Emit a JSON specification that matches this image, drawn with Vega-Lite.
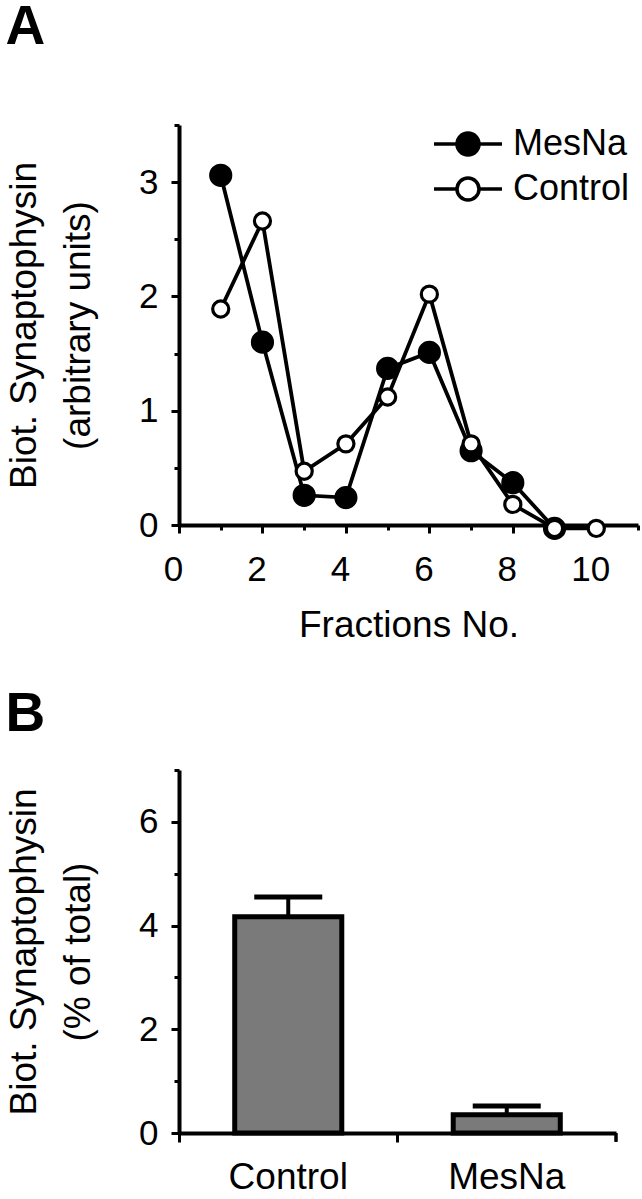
{
  "$schema": "https://vega.github.io/schema/vega-lite/v6.json",
  "padding": {"left": 5, "top": 0, "right": 5, "bottom": 0},
  "background": "white",
  "config": {
    "font": "Liberation Sans",
    "view": {"stroke": null},
    "axis": {
      "domainColor": "black", "domainWidth": 4, "tickColor": "black", "tickWidth": 3,
      "labelColor": "black", "titleColor": "black",
      "labelFont": "Liberation Sans", "titleFont": "Liberation Sans",
      "labelFontSize": 35, "titleFontSize": 37, "titleFontWeight": "normal",
      "grid": false, "labelFlush": false, "labelOverlap": false, "labelBound": false
    },
    "title": {"fontSize": 55, "fontWeight": "bold", "anchor": "start", "frame": "bounds", "color": "black", "font": "Liberation Sans"},
    "concat": {"spacing": 44}
  },
  "vconcat": [
    {
      "title": {"text": "A", "offset": 52},
      "width": 459,
      "height": 400,
      "data": {
        "values": [
          {"treatment": "MesNa", "fraction": 1, "value": 3.06},
          {"treatment": "MesNa", "fraction": 2, "value": 1.6},
          {"treatment": "MesNa", "fraction": 3, "value": 0.26},
          {"treatment": "MesNa", "fraction": 4, "value": 0.24},
          {"treatment": "MesNa", "fraction": 5, "value": 1.37},
          {"treatment": "MesNa", "fraction": 6, "value": 1.51},
          {"treatment": "MesNa", "fraction": 7, "value": 0.65},
          {"treatment": "MesNa", "fraction": 8, "value": 0.37},
          {"treatment": "MesNa", "fraction": 9, "value": -0.03},
          {"treatment": "Control", "fraction": 1, "value": 1.89},
          {"treatment": "Control", "fraction": 2, "value": 2.66},
          {"treatment": "Control", "fraction": 3, "value": 0.47},
          {"treatment": "Control", "fraction": 4, "value": 0.71},
          {"treatment": "Control", "fraction": 5, "value": 1.12},
          {"treatment": "Control", "fraction": 6, "value": 2.02},
          {"treatment": "Control", "fraction": 7, "value": 0.71},
          {"treatment": "Control", "fraction": 8, "value": 0.18},
          {"treatment": "Control", "fraction": 9, "value": -0.03},
          {"treatment": "Control", "fraction": 10, "value": -0.03}
        ]
      },
      "encoding": {
        "x": {
          "field": "fraction", "type": "quantitative",
          "scale": {"domain": [0, 11], "nice": false, "zero": false},
          "axis": {
            "title": "Fractions No.",
            "values": [0, 1, 2, 3, 4, 5, 6, 7, 8, 9, 10, 11],
            "labelExpr": "datum.value % 2 === 0 && datum.value <= 10 ? format(datum.value, 'd') : ''",
            "tickSize": {"condition": {"test": "datum.value % 2 === 0", "value": 8}, "value": 5},
            "labelPadding": 19, "titlePadding": 20, "labelOffset": -6
          }
        },
        "y": {
          "field": "value", "type": "quantitative",
          "scale": {"domain": [0, 3.5], "nice": false},
          "axis": {
            "title": ["Biot. Synaptophysin", "(arbitrary units)"],
            "values": [0, 0.5, 1, 1.5, 2, 2.5, 3, 3.5],
            "labelExpr": "datum.value % 1 === 0 && datum.value < 3.5 ? format(datum.value, 'd') : ''",
            "tickSize": {"condition": {"test": "datum.value % 1 === 0", "value": 8}, "value": 5},
            "labelPadding": 13, "titlePadding": 41, "titleLineHeight": 54
          }
        }
      },
      "layer": [
        {
          "mark": {"type": "line", "color": "black", "strokeWidth": 3.8},
          "encoding": {"detail": {"field": "treatment", "type": "nominal"}}
        },
        {
          "transform": [{"filter": "datum.treatment === 'MesNa'"}],
          "mark": {"type": "point", "filled": true, "size": 470, "strokeWidth": 1.5, "opacity": 1},
          "encoding": {
            "fill": {
              "field": "treatment", "type": "nominal",
              "scale": {"domain": ["MesNa", "Control"], "range": ["black", "white"]},
              "legend": {
                "title": null, "orient": "none", "legendX": 262, "legendY": -8,
                "symbolType": "M-1.36,0L-0.44,0M0.44,0L1.36,0M-0.44,0A0.44,0.44,0,1,1,0.44,0A0.44,0.44,0,1,1,-0.44,0Z",
                "symbolSize": 2500, "symbolStrokeWidth": 3.5, "symbolStrokeColor": "black",
                "labelFontSize": 36, "labelFont": "Liberation Sans", "labelColor": "black",
                "labelOffset": 18, "rowPadding": 0, "padding": 0, "labelLimit": 300
              }
            },
            "stroke": {
              "field": "treatment", "type": "nominal",
              "scale": {"domain": ["MesNa", "Control"], "range": ["black", "black"]}
            }
          }
        },
        {
          "transform": [{"filter": "datum.treatment === 'Control'"}],
          "mark": {"type": "point", "filled": true, "size": 260, "strokeWidth": 3.2, "opacity": 1},
          "encoding": {
            "fill": {"field": "treatment", "type": "nominal"},
            "stroke": {"field": "treatment", "type": "nominal"}
          }
        }
      ]
    },
    {
      "title": {"text": "B", "offset": 10},
      "width": 437,
      "height": 363,
      "data": {
        "values": [
          {"treatment": "Control", "percent": 4.17, "upper": 4.55},
          {"treatment": "MesNa", "percent": 0.35, "upper": 0.52}
        ]
      },
      "encoding": {
        "x": {
          "field": "treatment", "type": "nominal", "sort": ["Control", "MesNa"],
          "scale": {"paddingInner": 0, "paddingOuter": 0},
          "axis": {
            "title": null, "labelAngle": 0, "bandPosition": 0,
            "tickSize": 9, "labelPadding": 17, "labelFontSize": 37
          }
        }
      },
      "layer": [
        {
          "mark": {"type": "rule", "color": "black", "strokeWidth": 4},
          "encoding": {
            "y": {
              "field": "percent", "type": "quantitative",
              "scale": {"domain": [0, 7], "nice": false},
              "axis": {
                "title": ["Biot. Synaptophysin", "(% of total)"],
                "values": [0, 0.5, 1, 1.5, 2, 2.5, 3, 3.5, 4, 4.5, 5, 5.5, 6, 6.5, 7],
                "labelExpr": "datum.value % 2 === 0 ? format(datum.value, 'd') : ''",
                "tickSize": {"condition": {"test": "datum.value % 2 === 0", "value": 8}, "value": 5},
                "labelPadding": 13, "titlePadding": 41, "titleLineHeight": 54
              }
            },
            "y2": {"field": "upper"}
          }
        },
        {
          "mark": {"type": "bar", "fill": "#7a7a7a", "stroke": "black", "strokeWidth": 5, "width": {"band": 0.49}},
          "encoding": {
            "y": {"field": "percent", "type": "quantitative", "title": ["Biot. Synaptophysin", "(% of total)"]}
          }
        },
        {
          "mark": {"type": "tick", "color": "black", "thickness": 5, "size": 68, "opacity": 1},
          "encoding": {
            "y": {"field": "upper", "type": "quantitative", "title": ["Biot. Synaptophysin", "(% of total)"]}
          }
        },
        {
          "mark": {"type": "rule", "color": "black", "strokeWidth": 3, "clip": false},
          "encoding": {
            "x": {"datum": "MesNa", "type": "nominal", "bandPosition": 1},
            "y": {"datum": 0, "type": "quantitative", "title": ["Biot. Synaptophysin", "(% of total)"]},
            "y2": {"datum": -0.17}
          }
        }
      ]
    }
  ]
}
